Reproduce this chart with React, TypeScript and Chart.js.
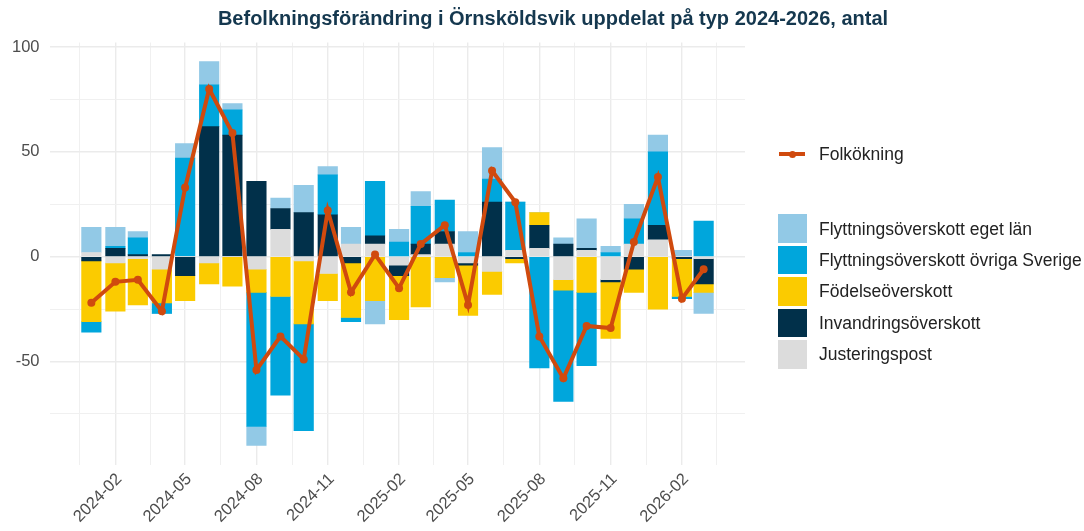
import React, { useEffect, useRef } from "react";
import { Chart, registerables } from "chart.js";

Chart.register(...registerables);

const months = [
  "2024-01", "2024-02", "2024-03", "2024-04", "2024-05", "2024-06", "2024-07", "2024-08", "2024-09",
  "2024-10", "2024-11", "2024-12", "2025-01", "2025-02", "2025-03", "2025-04", "2025-05", "2025-06",
  "2025-07", "2025-08", "2025-09", "2025-10", "2025-11", "2025-12", "2026-01", "2026-02", "2026-03",
];

const justeringspost = [2, -3, -1, -6, 0, -3, 0, -6, 13, -2, -8, 6, 6, -4, 1, 6, -3, -7, 3, 4, -11, 3, -11, 6, 8, 0, -1];
const invandringsoverskott = [-2, 4, 1, 1, -9, 62, 58, 36, 10, 21, 20, -3, 4, -5, 5, 6, -1, 26, -1, 11, 6, 1, -1, -6, 7, -1, -12];
const fodelseoverskott = [-29, -23, -22, -16, -12, -10, -14, -11, -19, -30, -13, -26, -21, -21, -24, -10, -24, -11, -2, 6, -5, -17, -27, -11, -25, -18, -4];
const flyttOvrigaSverige = [-5, 1, 8, -5, 47, 20, 12, -64, -47, -51, 19, -2, 26, 7, 18, 15, 2, 11, 23, -53, -53, -35, 2, 12, 35, -1, 17];
const flyttEgetLan = [12, 9, 3, 0, 7, 11, 3, -9, 5, 13, 4, 8, -11, 6, 7, -2, 10, 15, 0, 0, 3, 14, 3, 7, 8, 3, -10];
const folkokning = [-22, -12, -11, -26, 33, 80, 59, -54, -38, -49, 22, -17, 1, -15, 6, 15, -23, 41, 26, -38, -58, -33, -34, 7, 38, -20, -6];

const xBreakMonths = ["2023-11", "2024-02", "2024-05", "2024-08", "2024-11", "2025-02", "2025-05", "2025-08", "2025-11", "2026-02", "2026-05"];
const yMajorTicks = [-50, 0, 50, 100];
const yMinorTicks = [-75, -25, 25, 75];

const TITLE = "Befolkningsförändring i Örnsköldsvik uppdelat på typ 2024-2026, antal";
const LINE_LABEL = "Folkökning";

const COLORS = {
  eget: "#92C9E6",
  ovriga: "#00A6DC",
  fodelse: "#FBCB00",
  invandring: "#01304A",
  justering: "#DCDCDC",
  line: "#D04A0E",
};

const FONT = "'Liberation Sans', Arial, Helvetica, sans-serif";

function dayOf(m: string): number {
  const [y, mo] = m.split("-").map(Number);
  return (Date.UTC(y, mo - 1, 1) - Date.UTC(2024, 0, 1)) / 86400000;
}

const legendBars = [
  { label: "Flyttningsöverskott eget län", color: COLORS.eget },
  { label: "Flyttningsöverskott övriga Sverige", color: COLORS.ovriga },
  { label: "Födelseöverskott", color: COLORS.fodelse },
  { label: "Invandringsöverskott", color: COLORS.invandring },
  { label: "Justeringspost", color: COLORS.justering },
];

export default function App() {
  const canvasRef = useRef<HTMLCanvasElement | null>(null);

  useEffect(() => {
    if (!canvasRef.current) return;
    const xs = months.map(dayOf);
    const halfBar = 12.6;
    const first = xs[0] - halfBar;
    const last = xs[xs.length - 1] + halfBar;
    const span = last - first;
    const xMin = first - 0.05 * span;
    const xMax = last + 0.05 * span;

    const majorDays = xBreakMonths.map(dayOf);
    const majorSet = new Set<number>();
    const xTicks: number[] = [];
    for (let i = 0; i < majorDays.length; i++) {
      if (majorDays[i] >= xMin && majorDays[i] <= xMax) {
        xTicks.push(majorDays[i]);
        majorSet.add(majorDays[i]);
      }
      if (i < majorDays.length - 1) {
        const mid = (majorDays[i] + majorDays[i + 1]) / 2;
        if (mid >= xMin && mid <= xMax) xTicks.push(mid);
      }
    }
    xTicks.sort((a, b) => a - b);
    const labelByDay = new Map<number, string>();
    xBreakMonths.forEach((m) => labelByDay.set(dayOf(m), m));

    const yTicks = [...yMajorTicks, ...yMinorTicks].sort((a, b) => a - b);
    const yMajorSet = new Set(yMajorTicks);

    const mk = (label: string, data: number[], color: string) => ({
      type: "bar" as const,
      label,
      data: data.map((v, i) => ({ x: xs[i], y: v })),
      backgroundColor: color,
      borderWidth: 0,
      barThickness: 19.5,
      stack: "bars",
      order: 1,
    });

    const chart = new Chart(canvasRef.current, {
      type: "bar",
      data: {
        datasets: [
          mk("Justeringspost", justeringspost, COLORS.justering),
          mk("Invandringsöverskott", invandringsoverskott, COLORS.invandring),
          mk("Födelseöverskott", fodelseoverskott, COLORS.fodelse),
          mk("Flyttningsöverskott övriga Sverige", flyttOvrigaSverige, COLORS.ovriga),
          mk("Flyttningsöverskott eget län", flyttEgetLan, COLORS.eget),
          {
            type: "line" as const,
            label: LINE_LABEL,
            data: folkokning.map((v, i) => ({ x: xs[i], y: v })),
            borderColor: COLORS.line,
            backgroundColor: COLORS.line,
            borderWidth: 4,
            pointRadius: 4,
            pointBorderWidth: 0,
            pointBackgroundColor: COLORS.line,
            tension: 0,
            stack: "line",
            order: 0,
          } as any,
        ],
      },
      options: {
        responsive: false,
        animation: false,
        devicePixelRatio: 1,
        layout: { padding: { left: 0, right: 1084 - 745, top: 42.5, bottom: 0 } },
        plugins: {
          legend: { display: false },
          tooltip: { enabled: false },
          title: { display: false },
        },
        scales: {
          x: {
            type: "linear",
            min: xMin,
            max: xMax,
            stacked: true,
            offset: false,
            border: { display: false },
            grid: {
              offset: false,
              drawTicks: false,
              color: (ctx: any) => (majorSet.has(ctx.tick?.value) ? "#EBEBEB" : "#F0F0F0"),
              lineWidth: (ctx: any) => (majorSet.has(ctx.tick?.value) ? 1.4 : 1),
            },
            afterBuildTicks: (scale: any) => {
              scale.ticks = xTicks.map((v) => ({ value: v }));
            },
            afterFit: (scale: any) => {
              scale.height = 531 - 464.6;
            },
            ticks: {
              autoSkip: false,
              minRotation: 45,
              maxRotation: 45,
              padding: 5,
              labelOffset: 4,
              color: "#4D4D4D",
              font: { family: FONT, size: 16.5 },
              callback: (v: any) => (majorSet.has(Number(v)) ? labelByDay.get(Number(v)) || "" : ""),
            },
          },
          y: {
            type: "linear",
            min: -99.15,
            max: 102.15,
            stacked: true,
            border: { display: false },
            grid: {
              drawTicks: false,
              color: (ctx: any) => (yMajorSet.has(ctx.tick?.value) ? "#EBEBEB" : "#F0F0F0"),
              lineWidth: (ctx: any) => (yMajorSet.has(ctx.tick?.value) ? 1.4 : 1),
            },
            afterBuildTicks: (scale: any) => {
              scale.ticks = yTicks.map((v) => ({ value: v }));
            },
            afterFit: (scale: any) => {
              scale.width = 50;
            },
            ticks: {
              padding: 10.5,
              color: "#4D4D4D",
              font: { family: FONT, size: 16.5 },
              callback: (v: any) => (yMajorSet.has(Number(v)) ? String(v) : ""),
            },
          },
        },
      } as any,
    });
    return () => chart.destroy();
  }, []);

  return (
    <div
      style={{
        position: "fixed",
        left: 0,
        top: 0,
        width: 1084,
        height: 531,
        background: "#FFFFFF",
        fontFamily: FONT,
      }}
    >
      <canvas ref={canvasRef} width={1084} height={531} style={{ position: "absolute", left: 0, top: 0, width: 1084, height: 531 }} />
      <div
        style={{
          position: "absolute",
          left: 553,
          top: 18,
          transform: "translate(-50%, -50%)",
          whiteSpace: "nowrap",
          fontSize: 20,
          fontWeight: "bold",
          color: "#15384F",
        }}
      >
        {TITLE}
      </div>
      <div style={{ position: "absolute", left: 779, top: 152, width: 26, height: 4, background: COLORS.line }} />
      <div style={{ position: "absolute", left: 788.5, top: 150.5, width: 7, height: 7, borderRadius: "50%", background: COLORS.line }} />
      <div
        style={{
          position: "absolute",
          left: 819,
          top: 154,
          transform: "translateY(-50%)",
          whiteSpace: "nowrap",
          fontSize: 17.5,
          color: "#222222",
        }}
      >
        {LINE_LABEL}
      </div>
      {legendBars.map((item, i) => {
        const top = 214.3 + i * 31.45;
        return (
          <React.Fragment key={item.label}>
            <div style={{ position: "absolute", left: 778, top, width: 29, height: 28.5, background: item.color }} />
            <div
              style={{
                position: "absolute",
                left: 819,
                top: top + 14.25,
                transform: "translateY(-50%)",
                whiteSpace: "nowrap",
                fontSize: 17.5,
                color: "#222222",
              }}
            >
              {item.label}
            </div>
          </React.Fragment>
        );
      })}
    </div>
  );
}
